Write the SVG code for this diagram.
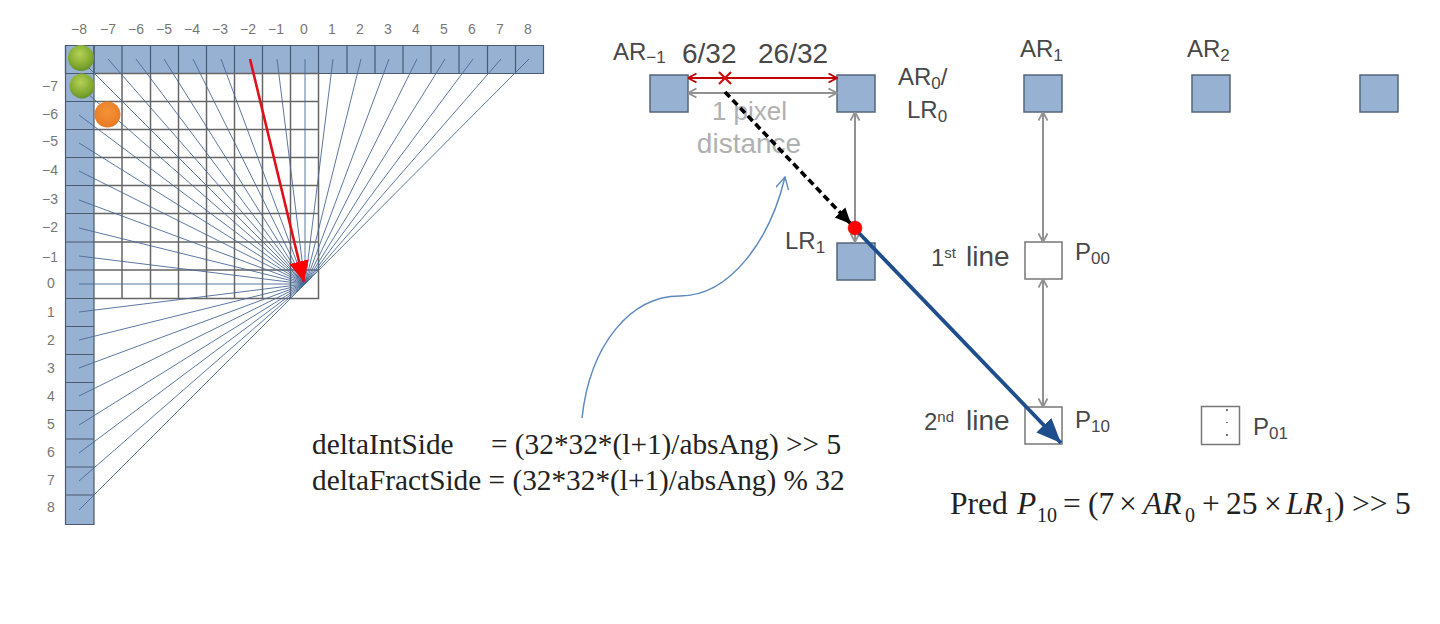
<svg xmlns="http://www.w3.org/2000/svg" width="1440" height="624" viewBox="0 0 1440 624">
<style>
.hdr{fill:none;stroke:#4a5a70;stroke-width:1.2}
.grid{fill:none;stroke:#666;stroke-width:1.5}
.ray{fill:none;stroke:#4a6a96;stroke-width:.9}
.ax{font:14px "Liberation Sans",Arial,sans-serif;fill:#777;text-anchor:middle}
.lb{font:24px "Liberation Sans",Arial,sans-serif;fill:#484848}
.nm{font-size:28px}
.sb{font-size:17px}
.sup{font-size:15px}
.gy{font:26px "Liberation Sans",Arial,sans-serif;fill:#b0b0b0;text-anchor:middle}
.gy2{font-size:28px}
.eq{font:29.300px "Liberation Serif","Times New Roman",serif;fill:#222}
.pr{font:31.500px "Liberation Serif","Times New Roman",serif;fill:#222}
.prs{font:20px "Liberation Serif","Times New Roman",serif;fill:#222}
.it{font-style:italic}
.sq{fill:#97b1d3;stroke:#56657a;stroke-width:1.5}
.wh{fill:#fff;stroke:#777;stroke-width:1.5}
.ga{stroke:#919191;stroke-width:2;fill:none;marker-start:url(#ga);marker-end:url(#ga)}
</style>
<defs>
<marker id="ga" viewBox="0 0 10 10" refX="9.500" refY="5" markerWidth="10" markerHeight="10" markerUnits="userSpaceOnUse" orient="auto-start-reverse"><path d="M1 .5L9.500 5L1 9.500" fill="none" stroke="#919191" stroke-width="1.800"/></marker>
<marker id="ra" viewBox="0 0 10 10" refX="9.500" refY="5" markerWidth="10" markerHeight="10" markerUnits="userSpaceOnUse" orient="auto-start-reverse"><path d="M1 .5L9.500 5L1 9.500" fill="none" stroke="#c00000" stroke-width="1.800"/></marker>
<marker id="ba" viewBox="0 0 14 14" refX="13" refY="7" markerWidth="17" markerHeight="17" markerUnits="userSpaceOnUse" orient="auto"><path d="M0 1L13 7L0 13z" fill="#000"/></marker>
<marker id="na" viewBox="0 0 20 16" refX="19" refY="8" markerWidth="26" markerHeight="21" markerUnits="userSpaceOnUse" orient="auto"><path d="M0 0L19 8L0 16z" fill="#1f4e8c"/></marker>
<marker id="rd" viewBox="0 0 20 20" refX="19" refY="10" markerWidth="22" markerHeight="22" markerUnits="userSpaceOnUse" orient="auto"><path d="M0 1L19 10L0 19z" fill="#f00"/></marker>
<marker id="ca" viewBox="0 0 14 14" refX="13" refY="7" markerWidth="14" markerHeight="14" markerUnits="userSpaceOnUse" orient="auto"><path d="M1 .5L13 7L1 13.500" fill="none" stroke="#5f8ac0" stroke-width="1.400"/></marker>
<radialGradient id="gg" cx=".45" cy=".35" r=".7"><stop offset="0" stop-color="#b4d255"/><stop offset=".7" stop-color="#7fa62f"/><stop offset="1" stop-color="#5f8a28"/></radialGradient>
<radialGradient id="og" cx=".5" cy=".4" r=".7"><stop offset="0" stop-color="#f59338"/><stop offset="1" stop-color="#e5761f"/></radialGradient>
</defs>
<g id="reference-grid">
<rect x="65.500" y="45.500" width="478" height="28" fill="#97b1d3"/>
<rect x="65.500" y="45.500" width="28.500" height="479" fill="#97b1d3"/>
<path class="hdr" d="M65.500 45.500H543.500V73.500H65.500zM94 45.500V73.500M122 45.500V73.500M150.500 45.500V73.500M178.500 45.500V73.500M206.500 45.500V73.500M234.500 45.500V73.500M262.500 45.500V73.500M290.500 45.500V73.500M318.500 45.500V73.500M347 45.500V73.500M375 45.500V73.500M403 45.500V73.500M431 45.500V73.500M459 45.500V73.500M487.500 45.500V73.500M515.500 45.500V73.500"/>
<path class="hdr" d="M65.500 45.500V524.500H94V45.500M65.500 101.500H94M65.500 129.500H94M65.500 157.500H94M65.500 185.500H94M65.500 213.500H94M65.500 242H94M65.500 270H94M65.500 298.500H94M65.500 326.500H94M65.500 354.500H94M65.500 382.500H94M65.500 410.500H94M65.500 439H94M65.500 467H94M65.500 495H94"/>
<path class="grid" d="M94 73.500H318.500V298.500H94M122 73.500V298.500M150.500 73.500V298.500M178.500 73.500V298.500M206.500 73.500V298.500M234.500 73.500V298.500M262.500 73.500V298.500M290.500 73.500V298.500M94 101.500H318.500M94 129.500H318.500M94 157.500H318.500M94 185.500H318.500M94 213.500H318.500M94 242H318.500M94 270H318.500"/>
</g>
<g id="axis-labels">
<text class="ax" x="79" y="34">−8</text><text class="ax" x="108" y="34">−7</text><text class="ax" x="136" y="34">−6</text><text class="ax" x="164" y="34">−5</text><text class="ax" x="192" y="34">−4</text><text class="ax" x="220" y="34">−3</text><text class="ax" x="248" y="34">−2</text><text class="ax" x="276" y="34">−1</text><text class="ax" x="304" y="34">0</text><text class="ax" x="332" y="34">1</text><text class="ax" x="360" y="34">2</text><text class="ax" x="388" y="34">3</text><text class="ax" x="416" y="34">4</text><text class="ax" x="444" y="34">5</text><text class="ax" x="472" y="34">6</text><text class="ax" x="500" y="34">7</text><text class="ax" x="528" y="34">8</text>
<text class="ax" x="50" y="91">−7</text><text class="ax" x="50" y="119">−6</text><text class="ax" x="50" y="146">−5</text><text class="ax" x="50" y="175">−4</text><text class="ax" x="50" y="204">−3</text><text class="ax" x="50" y="232">−2</text><text class="ax" x="50" y="262">−1</text><text class="ax" x="51" y="288">0</text><text class="ax" x="51" y="317">1</text><text class="ax" x="51" y="345">2</text><text class="ax" x="51" y="373">3</text><text class="ax" x="51" y="401">4</text><text class="ax" x="51" y="429">5</text><text class="ax" x="51" y="457">6</text><text class="ax" x="51" y="485">7</text><text class="ax" x="51" y="512">8</text>
</g>
<g id="AR-1"><rect class="sq" x="650" y="75" width="38" height="37"/><text class="lb" x="613" y="60">AR<tspan class="sb" dy="3">−1</tspan></text></g>
<g id="AR0"><rect class="sq" x="837" y="75" width="38" height="37"/><text class="lb" x="898" y="85">AR<tspan class="sb" dy="4">0</tspan><tspan dy="-4">/</tspan></text><text class="lb" x="907" y="118">LR<tspan class="sb" dy="4">0</tspan></text></g>
<g id="AR1"><rect class="sq" x="1024" y="75" width="38" height="37"/><text class="lb" x="1020" y="57">AR<tspan class="sb" dy="4">1</tspan></text></g>
<g id="AR2"><rect class="sq" x="1192" y="75" width="38" height="37"/><text class="lb" x="1187" y="57">AR<tspan class="sb" dy="4">2</tspan></text></g>
<g id="AR3"><rect class="sq" x="1360" y="75" width="38" height="37"/></g>
<g id="LR1"><rect class="sq" x="837" y="243" width="38" height="37"/><text class="lb" x="785" y="249">LR<tspan class="sb" dy="4">1</tspan></text></g>
<g id="P00"><rect class="wh" x="1025" y="242" width="37" height="37"/><text class="lb" x="931" y="266">1<tspan class="sup" dy="-8">st</tspan><tspan x="966" dy="8" font-size="28">line</tspan></text><text class="lb" x="1075" y="260">P<tspan class="sb" dy="4">00</tspan></text></g>
<g id="P10"><rect class="wh" x="1025" y="407" width="37" height="37"/><text class="lb" x="924" y="430">2<tspan class="sup" dy="-8">nd</tspan><tspan x="966" dy="8" font-size="28">line</tspan></text><text class="lb" x="1075" y="428">P<tspan class="sb" dy="4">10</tspan></text></g>
<g id="P01"><rect class="wh" x="1201.500" y="406.500" width="38" height="38"/><path d="M1227 409v2M1227 422v1M1227 434v2" stroke="#222" stroke-width="1.200"/><text class="lb" x="1253" y="435">P<tspan class="sb" dy="4">01</tspan></text></g>
<g id="labels">
<text class="lb nm" x="682" y="63">6/32</text>
<text class="lb nm" x="758" y="63">26/32</text>
<text class="gy" x="749.500" y="120">1 pixel</text>
<text class="gy gy2" x="749" y="153">distance</text>
<text class="eq" x="312" y="454">deltaIntSide</text><text class="eq" x="491" y="454">= (32*32*(l+1)/absAng) &gt;&gt; 5</text>
<text class="eq" x="312" y="490">deltaFractSide = (32*32*(l+1)/absAng) % 32</text>
<text class="pr" x="950" y="514">Pred</text><text class="pr it" x="1017" y="514">P</text><text class="prs" x="1037" y="522">10</text><text class="pr" x="1063" y="514">=</text><text class="pr" x="1088" y="514">(7</text><text class="pr" x="1119" y="514">×</text><text class="pr it" x="1143" y="514">AR</text><text class="prs" x="1185" y="522">0</text><text class="pr" x="1202" y="514">+</text><text class="pr" x="1226" y="514">25</text><text class="pr" x="1264" y="514">×</text><text class="pr it" x="1286" y="514">LR</text><text class="prs" x="1324" y="522">1</text><text class="pr" x="1334" y="514">)</text><text class="pr" x="1352" y="514" fill="#666">&gt;&gt;</text><text class="pr" x="1395" y="514">5</text>
</g>
<g id="connectors">
<path class="ray" d="M80 59L305 284M108 59L305 284M136 59L305 284M164 59L305 284M193 59L305 284M221 59L305 284M277 59L305 284M305 59V284M333 59L305 284M361 59L305 284M389 59L305 284M417 59L305 284M445 59L305 284M473 59L305 284M501 59L305 284M529 59L305 284"/>
<path class="ray" d="M80 87L305 284M79 115L305 284M79 143L305 284M79 171L305 284M79 200L305 284M79 228L305 284M79 256L305 284M79 284H305M79 312L305 284M79 340L305 284M79 368L305 284M79 396L305 284M79 425L305 284M79 453L305 284M79 481L305 284M79 510L305 284"/>
<path d="M250 59L304 282" stroke="#e0101a" stroke-width="2.600" fill="none" marker-end="url(#rd)"/>
<path d="M688 78H837" stroke="#c00000" stroke-width="2" fill="none" marker-start="url(#ra)" marker-end="url(#ra)"/>
<path d="M719 72L731 84M731 72L719 84" stroke="#d01010" stroke-width="2.200" fill="none"/>
<path class="ga" d="M688 93H837"/>
<path class="ga" d="M855 112V242"/>
<path class="ga" d="M1043 112V242"/>
<path class="ga" d="M1043 279V407"/>
<path d="M725 92L851 224" stroke="#000" stroke-width="3.600" stroke-dasharray="7 4" fill="none" marker-end="url(#ba)"/>
<path d="M858 232L1061 443" stroke="#1f4e8c" stroke-width="3.800" fill="none" marker-end="url(#na)"/>
<path d="M582 418C590 345 630 296 680 296C730 296 770 240 785 177" stroke="#5f8ac0" stroke-width="1.500" fill="none" marker-end="url(#ca)"/>
</g>
<g id="markers">
<circle cx="81" cy="58" r="13" fill="url(#gg)"/>
<circle cx="82" cy="86" r="12.500" fill="url(#gg)"/>
<circle cx="107.500" cy="114.500" r="13" fill="url(#og)"/>
<circle cx="855" cy="228" r="7" fill="#f00" stroke="#e00" stroke-width=".5"/>
</g>
</svg>
